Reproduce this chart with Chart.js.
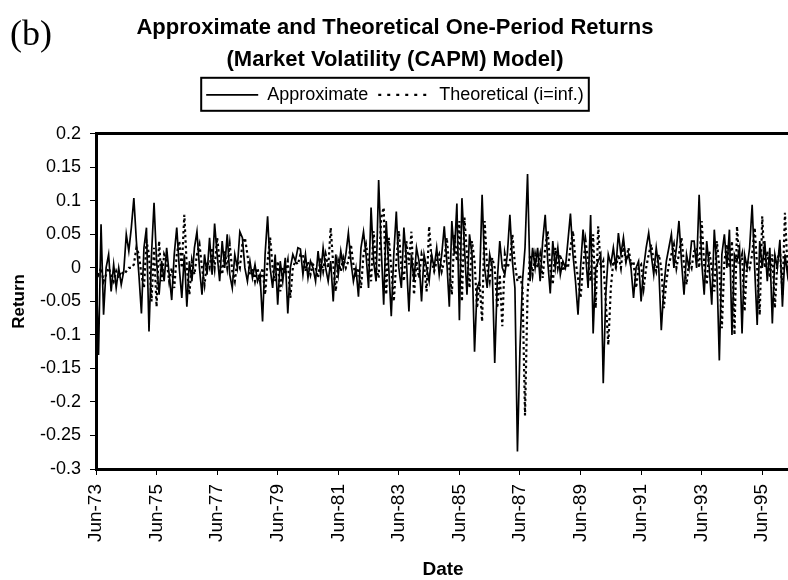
<!DOCTYPE html>
<html>
<head>
<meta charset="utf-8">
<script src="https://cdn.jsdelivr.net/npm/chart.js@4.4.0/dist/chart.umd.min.js"></script>
<style>
html,body{margin:0;padding:0;overflow:hidden;background:#fff;width:788px;height:580px;}
#wrap{position:relative;width:800px;height:580px;}
#c{position:absolute;left:0;top:0;}
#tag{position:absolute;left:10px;top:15px;font-family:"Liberation Serif","DejaVu Serif",serif;font-size:36px;line-height:1;color:#000;}
</style>
</head>
<body>
<div id="wrap">
<canvas id="c" width="800" height="580"></canvas>
<div id="tag">(b)</div>
</div>
<script>
// ---- Data (monthly, starting Jun-73) ----
const startYear = 1973;
const startMonth = 5; // June (0-based)
const monthNames = ["Jan","Feb","Mar","Apr","May","Jun","Jul","Aug","Sep","Oct","Nov","Dec"];

const approximate = [
  0.01, -0.13, 0.065, -0.07, 0.0, 0.02, -0.035, 0.005, -0.03, 0.0, -0.025, -0.005,
  0.05, 0.025, 0.06, 0.104, 0.04, -0.01, -0.068, 0.03, 0.06, -0.095, 0.02, 0.097,
  0.01, -0.04, 0.01, -0.02, 0.03, -0.01, -0.048, 0.02, 0.06, 0.0, -0.045, 0.02,
  -0.058, 0.01, -0.02, 0.03, 0.054, 0.0, -0.04, 0.02, -0.01, 0.045, -0.01, 0.066,
  0.02, -0.02, 0.04, 0.0, 0.05, -0.01, -0.03, 0.02, 0.0, 0.054, 0.045, 0.0,
  -0.02, 0.01, -0.015, 0.005, -0.02, -0.01, -0.08, 0.02, 0.077, 0.0, -0.03, 0.02,
  -0.055, 0.01, -0.02, 0.015, -0.068, 0.0, 0.02, 0.01, 0.03, 0.028, -0.01, 0.02,
  -0.015, 0.01, 0.0, -0.02, 0.025, -0.01, 0.03, 0.0, -0.02, 0.01, -0.05, 0.02,
  -0.01, 0.025, 0.0, 0.02, 0.052, 0.01, -0.02, 0.0, -0.043, 0.03, 0.054, 0.02,
  -0.03, 0.09, 0.01, -0.02, 0.131, 0.03, -0.055, 0.07, 0.0, -0.072, 0.02, 0.084,
  0.0, -0.03, 0.06, 0.01, -0.065, 0.02, -0.02, 0.03, 0.01, -0.05, 0.02, 0.0,
  -0.02, 0.02, 0.0, 0.03, -0.01, 0.02, 0.062, 0.01, -0.058, 0.07, 0.02, 0.096,
  -0.078, 0.104, 0.03, -0.04, 0.05, 0.02, -0.125, -0.03, -0.02, 0.109, 0.0, -0.03,
  0.02, 0.0, -0.142, -0.02, 0.04, 0.0, -0.01, 0.02, 0.079, 0.01, -0.03, -0.274,
  -0.12, -0.02, 0.03, 0.14, -0.02, 0.03, 0.0, 0.03, -0.02, 0.04, 0.079, 0.01,
  -0.038, 0.04, 0.0, 0.03, -0.01, 0.01, 0.0, 0.04, 0.081, 0.02, -0.02, -0.07,
  0.0, 0.057, 0.02, -0.03, 0.079, -0.098, 0.0, 0.01, 0.02, -0.172, -0.04, 0.02,
  0.005, 0.03, 0.0, 0.052, 0.02, 0.045, 0.01, 0.02, 0.0, -0.045, 0.0, 0.01,
  -0.05, 0.0, 0.03, 0.052, 0.02, -0.01, 0.03, 0.0, -0.093, -0.03, 0.01, 0.03,
  0.05, 0.0, 0.03, 0.07, 0.01, -0.04, 0.02, 0.0, 0.04, 0.04, 0.0, 0.109,
  0.01, -0.04, 0.04, 0.0, -0.055, 0.057, 0.0, -0.138, 0.02, 0.05, 0.0, 0.057,
  -0.1, 0.02, 0.01, 0.03, -0.098, 0.02, 0.0, 0.03, 0.094, 0.0, -0.085, 0.04,
  0.0, 0.04, -0.02, 0.03, -0.083, 0.02, 0.0, 0.042, -0.058, 0.02, -0.01, 0.03
];

const theoretical = [
  0.0, -0.01, 0.0, -0.02, -0.01, 0.0, -0.01, -0.02, -0.005, -0.015, -0.005, -0.01,
  -0.005, 0.0, 0.0, 0.005, 0.03, 0.02, -0.01, -0.03, 0.04, 0.02, -0.05, 0.03,
  -0.058, 0.04, -0.02, 0.02, 0.01, -0.02, 0.0, -0.03, 0.02, 0.04, 0.0, 0.079,
  0.0, -0.04, 0.01, -0.01, 0.02, 0.035, 0.0, -0.025, 0.01, 0.0, 0.03, 0.0,
  0.045, 0.01, -0.01, 0.025, 0.0, 0.035, -0.005, -0.02, 0.01, 0.0, 0.035, 0.045,
  0.02, -0.01, 0.0, -0.02, 0.0, -0.02, 0.0, -0.04, 0.01, 0.045, 0.0, -0.02,
  0.01, -0.035, 0.0, -0.01, 0.01, -0.045, 0.0, 0.01, 0.005, 0.02, 0.02, -0.005,
  0.01, -0.01, 0.005, 0.0, -0.015, 0.015, -0.005, 0.02, 0.0, 0.06, 0.005, -0.035,
  0.01, -0.005, 0.015, 0.0, 0.01, 0.035, 0.005, -0.015, 0.0, -0.03, 0.02, 0.035,
  0.01, -0.02, 0.055, 0.0, -0.015, 0.075, 0.09, -0.04, 0.045, 0.0, -0.05, 0.01,
  0.055, 0.0, -0.02, 0.04, 0.005, 0.054, -0.04, 0.01, -0.015, 0.02, 0.005, -0.035,
  0.062, 0.01, -0.005, 0.01, 0.02, -0.005, 0.01, 0.045, 0.0, -0.04, 0.05, 0.01,
  0.07, -0.05, 0.075, 0.02, -0.03, 0.04, 0.01, -0.06, -0.02, -0.08, 0.07, 0.0,
  -0.02, 0.015, 0.0, -0.06, -0.01, -0.087, 0.02, 0.0, 0.01, 0.05, 0.005, -0.02,
  -0.01, -0.03, -0.22, -0.04, 0.02, -0.01, 0.02, 0.0, 0.02, -0.015, 0.03, 0.055,
  0.0, -0.025, 0.03, 0.0, 0.02, -0.005, 0.005, 0.0, 0.03, 0.055, 0.01, -0.015,
  -0.045, 0.0, 0.04, 0.01, -0.02, 0.05, -0.06, 0.062, 0.0, 0.01, -0.05, -0.115,
  -0.03, 0.01, 0.0, 0.02, 0.0, 0.035, 0.01, 0.03, 0.005, 0.01, -0.03, 0.0,
  0.005, -0.03, 0.0, 0.02, 0.035, 0.01, -0.005, 0.02, 0.0, -0.06, -0.02, 0.005,
  0.02, 0.035, 0.0, 0.02, 0.045, 0.005, -0.025, 0.01, 0.0, 0.025, 0.03, 0.0,
  0.07, 0.005, -0.025, 0.025, 0.0, -0.035, 0.04, 0.0, -0.09, 0.01, 0.035, 0.0,
  0.04, -0.1, 0.062, 0.005, 0.02, -0.065, 0.01, 0.0, 0.02, 0.06, 0.0, -0.07,
  0.077, 0.0, 0.025, -0.015, 0.02, -0.06, 0.01, 0.03, -0.04, 0.082, 0.0, -0.03
];

// category labels: Mon-YY for each month
const dateLabels = [];
for (let i = 0; i < approximate.length; i++) {
  const m = (startMonth + i) % 12;
  const y = startYear + Math.floor((startMonth + i) / 12);
  dateLabels.push(monthNames[m] + "-" + String(y % 100).padStart(2, "0"));
}
const labelEvery = 24; // a labelled tick every two years

const seriesNames = ["Approximate", "Theoretical (i=inf.)"];
const titleLines = ["Approximate and Theoretical One-Period Returns", "(Market Volatility (CAPM) Model)"];

// ---- Chart ----
const FONT = '"Liberation Sans", Arial, Helvetica, sans-serif';
Chart.defaults.font.family = FONT;
Chart.defaults.color = "#000";

const SOLID_W = 1.7;
const DOT_W = 2.2;
const DOT_DASH = [2.5, 3];
const LEGEND_DOT_DASH = [3, 6];

const legendFrame = {
  id: "legendFrame",
  afterDraw(chart) {
    const lg = chart.legend;
    if (!lg || !lg.legendHitBoxes || !lg.legendHitBoxes.length) return;
    const hb = lg.legendHitBoxes;
    const l = Math.min(...hb.map(b => b.left));
    const r = Math.max(...hb.map(b => b.left + b.width));
    const t = Math.min(...hb.map(b => b.top));
    const b = Math.max(...hb.map(b => b.top + b.height));
    const ctx = chart.ctx;
    ctx.save();
    ctx.strokeStyle = "#000";
    ctx.lineWidth = 2;
    ctx.strokeRect(l - 5, t - 8, r - l + 10, b - t + 15);
    ctx.restore();
  }
};

new Chart(document.getElementById("c"), {
  type: "line",
  data: {
    labels: dateLabels,
    datasets: [
      {
        label: seriesNames[0],
        data: approximate,
        borderColor: "#000",
        backgroundColor: "#000",
        borderWidth: SOLID_W,
        pointRadius: 0,
        tension: 0,
        fill: false
      },
      {
        label: seriesNames[1],
        data: theoretical,
        borderColor: "#000",
        backgroundColor: "#000",
        borderWidth: DOT_W,
        borderDash: DOT_DASH,
        pointRadius: 0,
        tension: 0,
        fill: false
      }
    ]
  },
  options: {
    responsive: false,
    animation: false,
    devicePixelRatio: 1,
    layout: { padding: { left: 0, right: 10, top: 0, bottom: 0 } },
    plugins: {
      title: {
        display: true,
        text: titleLines,
        color: "#000",
        font: { size: 22, weight: "bold", lineHeight: 1.45 },
        padding: { top: 12, bottom: 0 }
      },
      legend: {
        display: true,
        position: "top",
        labels: {
          color: "#000",
          font: { size: 18 },
          usePointStyle: true,
          pointStyle: "line",
          pointStyleWidth: 52,
          padding: 10,
          generateLabels(chart) {
            const items = Chart.defaults.plugins.legend.labels.generateLabels(chart);
            items.forEach((it, i) => {
              it.strokeStyle = "#000";
              it.lineWidth = i === 1 ? DOT_W : SOLID_W;
              it.lineDash = i === 1 ? LEGEND_DOT_DASH : [];
              it.pointStyle = "line";
            });
            return items;
          }
        }
      },
      tooltip: { enabled: false }
    },
    scales: {
      x: {
        type: "category",
        position: "bottom",
        offset: false,
        afterBuildTicks(scale) {
          scale.ticks = scale.ticks.filter(t => t.value % labelEvery === 0);
        },
        afterFit(scale) { scale.height = 111; },
        grid: { drawOnChartArea: false, drawTicks: true, tickLength: 6, tickColor: "#000", color: "#000" },
        border: { display: true, color: "#000", width: 3 },
        ticks: {
          autoSkip: false,
          minRotation: 90,
          maxRotation: 90,
          padding: 9,
          color: "#000",
          font: { size: 19 }
        },
        title: {
          display: true,
          text: "Date",
          color: "#000",
          font: { size: 19, weight: "bold" },
          padding: { top: 0, bottom: -1 }
        }
      },
      x2: {
        type: "category",
        position: "top",
        offset: false,
        afterFit(scale) { scale.height = 20; },
        grid: { drawOnChartArea: false, drawTicks: false },
        border: { display: true, color: "#000", width: 3 },
        ticks: { display: false }
      },
      y: {
        type: "linear",
        position: "left",
        min: -0.3,
        max: 0.2,
        afterFit(scale) { scale.width = 96; },
        grid: { drawOnChartArea: false, drawTicks: true, tickLength: 6, tickColor: "#000", color: "#000" },
        border: { display: true, color: "#000", width: 3 },
        ticks: {
          stepSize: 0.05,
          padding: 9,
          color: "#000",
          font: { size: 18 },
          callback: v => String(Math.round(v * 100) / 100)
        },
        title: {
          display: true,
          text: "Return",
          color: "#000",
          font: { size: 17, weight: "bold" },
          padding: { top: 9, bottom: 0 }
        }
      }
    }
  },
  plugins: [legendFrame]
});
</script>
</body>
</html>
